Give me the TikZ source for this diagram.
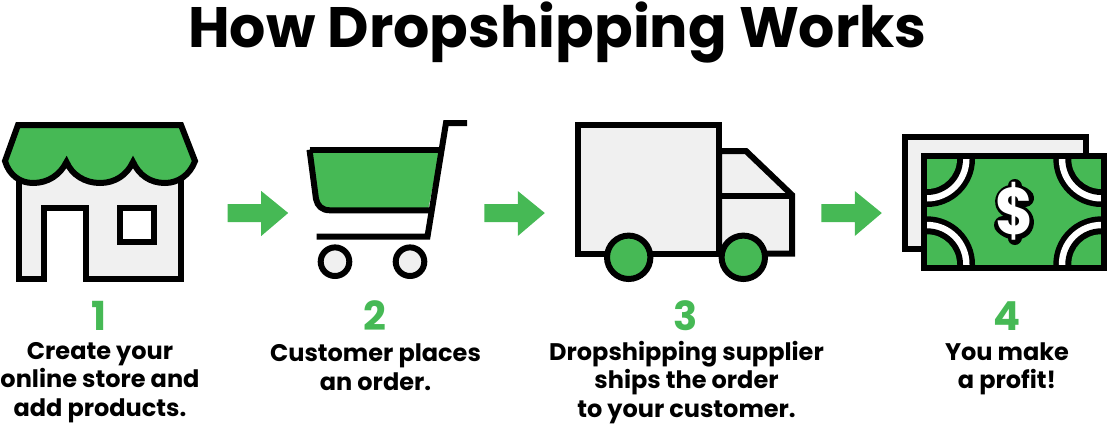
\documentclass[tikz,border=0pt]{standalone}
\usepackage{fontspec}
\setmainfont{Poppins}
\definecolor{gr}{HTML}{46B955}
\definecolor{lg}{HTML}{F0F0F0}
\tikzset{
  x=1pt,y=-1pt,
  icon/.style={draw=black,line width=6pt,miter limit=10},
  arrowshape/.style={fill=gr,draw=none},
  title/.style={font=\fontsize{57}{57}\selectfont\bfseries,inner sep=0pt,anchor=base},
  num/.style={font=\fontsize{40}{40}\selectfont\bfseries,text=gr,inner sep=0pt,anchor=center},
  lab/.style={font=\fontsize{24}{28.5}\selectfont\bfseries,align=center,inner sep=0pt,anchor=center},
}
\newcommand{\stepArrow}[1]{%
  \fill[arrowshape,shift={(#1,0)}] (0,204)--(33.5,204)--(33.5,191)--(60.5,213)--(33.5,236)--(33.5,222)--(0,222)--cycle;}
\begin{document}
\begin{tikzpicture}
\useasboundingbox (0,0) rectangle (1110,424);
\node[title] (t) at (557.5,47) {How Dropshipping Works};
% store
\draw[icon,fill=lg] (18.5,170)--(18.5,279)--(43.7,279)--(43.7,208)--(85.7,208)--(85.7,279)--(181,279)--(181,170);
\draw[icon,fill=white] (119.5,208) rectangle (154,241.5);
\draw[icon,fill=gr,line join=miter] (18,125)--(181,125)--(195,161)
  .. controls (190,175) and (178,183) .. (165,183)
  .. controls (150,183) and (139,175) .. (133,162)
  .. controls (127,175) and (115,183) .. (100,183)
  .. controls (85,183) and (72,175) .. (66.5,162)
  .. controls (60,175) and (48,183) .. (33,183)
  .. controls (20,183) and (9,175) .. (5,161)--cycle;
\stepArrow{227.7}
% cart
\fill[gr] (309.5,149.7)--(440,149.7)--(428,210.3)--(330,210.3) .. controls (322,210.3) and (317.5,206) .. (316.5,199)--cycle;
\draw[icon,line join=miter] (309.5,149.7)--(441.5,149.7);
\draw[icon] (309.5,149.7)--(316,199) .. controls (317.5,206) and (322,210.3) .. (330,210.3)--(430,210.3);
\draw[icon] (467,123)--(446,123)--(427.5,236.5)--(316.7,236.5);
\draw[icon,fill=lg] (335,261.7) circle (14.3);
\draw[icon,fill=lg] (410,261.7) circle (14.3);
\stepArrow{484.3}
% truck
\draw[icon,fill=lg] (578,125) rectangle (719,253.7);
\draw[icon,fill=lg] (719,151)--(746,151)--(792,195)--(792,253.7)--(719,253.7)--cycle;
\draw[icon] (719,196.3)--(792,196.3);
\draw[icon,fill=gr] (628.7,257.3) circle (21.7);
\draw[icon,fill=gr] (743.3,257.3) circle (21.7);
\stepArrow{821.3}
% money
\draw[icon,fill=lg] (905.3,137) rectangle (1085.7,249);
\fill[gr] (924,156) rectangle (1104.3,267.5);
\begin{scope}
\clip (924,156) rectangle (1104.3,267.5);
\foreach \cx/\cy in {927/159,1101.3/159,927/264.3,1101.3/264.3}{
  \fill[black] (\cx,\cy) circle (48);
  \fill[white] (\cx,\cy) circle (42.5);
  \fill[black] (\cx,\cy) circle (36);
  \fill[gr] (\cx,\cy) circle (30);
}
\end{scope}
\draw[icon] (924,156) rectangle (1104.3,267.5);
\draw[line width=14pt,line cap=round,line join=round,black] (1014.5,186)--(1014.5,238);
\draw[line width=18pt,line cap=round,line join=round,black] (1025,198) .. controls (1018,191) and (1004,192) .. (1004,202) .. controls (1004,212) and (1025,211) .. (1025,222) .. controls (1025,233) and (1010,233) .. (1003,225);
\node[font=\fontsize{66}{66}\selectfont\bfseries,text=white,inner sep=0pt,xscale=0.88] (dollar) at (1014.5,211) {\$};
% labels
\node[num] (n1) at (99.5,316) {1};
\node[num] (n2) at (375,316) {2};
\node[num] (n3) at (686,316) {3};
\node[num] (n4) at (1007,316) {4};
\node[lab] (l1) at (100,382.5) {Create your\\online store and\\add products.};
\node[lab] (l2) at (375.5,367) {Customer places\\an order.};
\node[lab] (l3) at (686.5,382.5) {Dropshipping supplier\\ships the order\\to your customer.};
\node[lab] (l4) at (1007,369) {You make\\a profit!};
\end{tikzpicture}
\end{document}
